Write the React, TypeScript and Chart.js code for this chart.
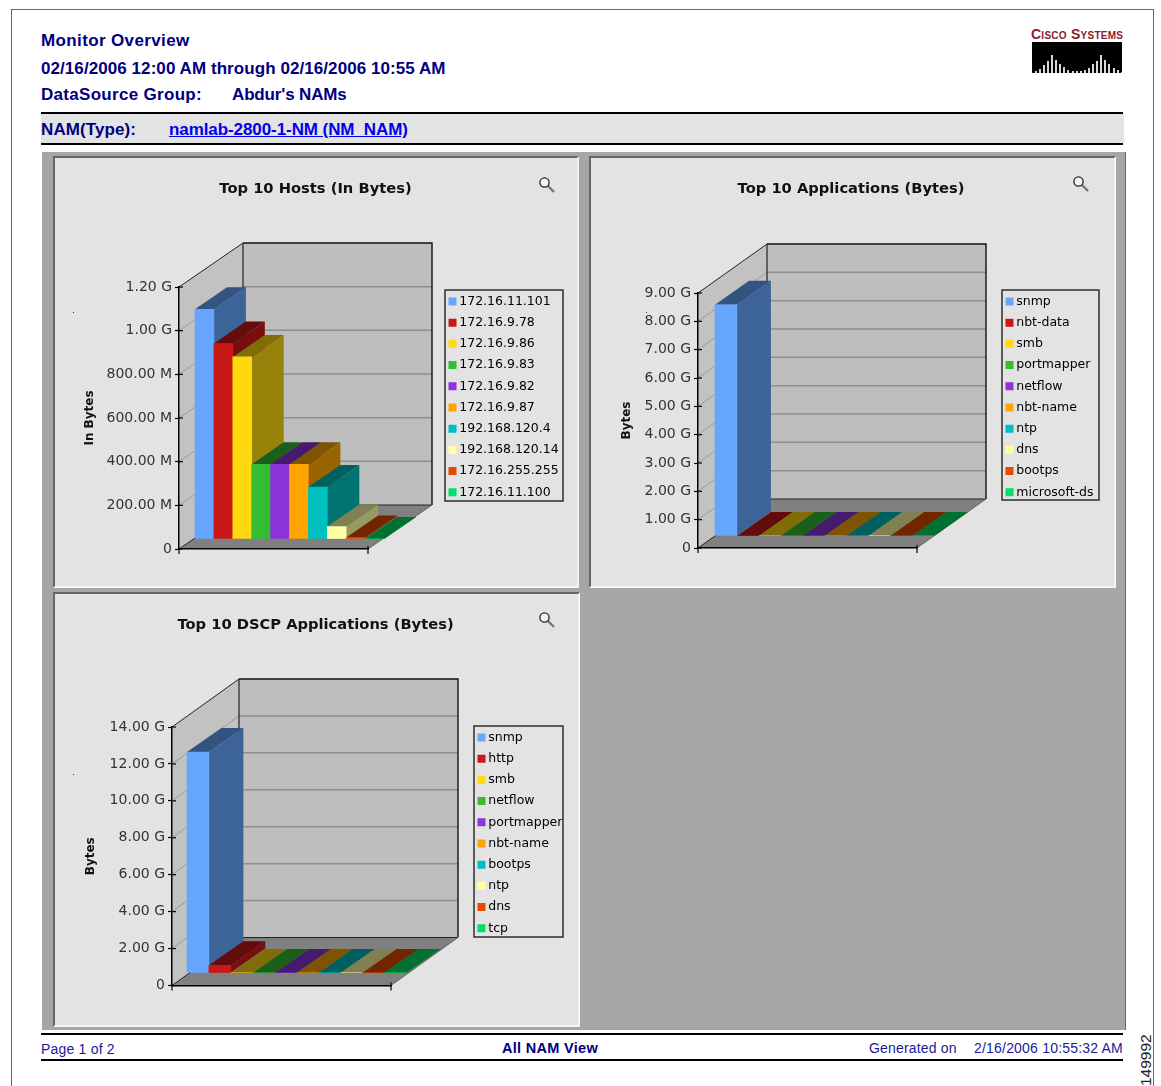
import React, { useEffect, useRef } from "react";
import { Chart, registerables } from "chart.js";

Chart.register(...registerables);

const FONT = '"DejaVu Sans", sans-serif';
const PAGE_FONT = '"Liberation Sans", Arial, sans-serif';

// ---------- data ----------
const hostLabels = ["172.16.11.101", "172.16.9.78", "172.16.9.86", "172.16.9.83", "172.16.9.82", "172.16.9.87", "192.168.120.4", "192.168.120.14", "172.16.255.255", "172.16.11.100"];
const hostValues = [1052e6, 895e6, 834e6, 342e6, 342e6, 342e6, 238e6, 57e6, 6.4e6, 0.4e6];
const appLabels = ["snmp", "nbt-data", "smb", "portmapper", "netflow", "nbt-name", "ntp", "dns", "bootps", "microsoft-ds"];
const appValues = [8.16e9, 1.2e6, 1.1e6, 1e6, 0.9e6, 0.8e6, 0.7e6, 0.6e6, 0.5e6, 0.4e6];
const dscpLabels = ["snmp", "http", "smb", "netflow", "portmapper", "nbt-name", "bootps", "ntp", "dns", "tcp"];
const dscpValues = [11.97e9, 0.415e9, 1.2e6, 1.1e6, 1e6, 0.9e6, 0.8e6, 0.7e6, 0.6e6, 0.5e6];
const barColors = ["#66A6FF", "#C81818", "#FFD90F", "#33BD33", "#8C33D9", "#FFA500", "#00BFBF", "#FFFFA3", "#E64A00", "#00E066"];
const logoBars = [2, 4, 8, 12, 18, 13, 9, 6, 3, 2, 2, 2, 3, 5, 9, 12, 18, 13, 9, 5, 3, 1];

// ---------- helpers ----------
function shade(hex: string, f: number) {
  const n = parseInt(hex.slice(1), 16);
  const c = (s: number) => Math.round(((n >> s) & 255) * f);
  return `rgb(${c(16)},${c(8)},${c(0)})`;
}
function poly(ctx: CanvasRenderingContext2D, pts: number[][], fill?: string, stroke?: string, lw = 1) {
  ctx.beginPath();
  pts.forEach((p, i) => (i ? ctx.lineTo(p[0], p[1]) : ctx.moveTo(p[0], p[1])));
  if (fill) { ctx.closePath(); ctx.fillStyle = fill; ctx.fill(); }
  if (stroke) { ctx.strokeStyle = stroke; ctx.lineWidth = lw; ctx.stroke(); }
}
function tickText(v: number) {
  if (v === 0) return "0";
  return v >= 1e9 ? (v / 1e9).toFixed(2) + " G" : (v / 1e6).toFixed(2) + " M";
}

const plugin3d = {
  id: "box3d",
  afterLayout(chart: any, _a: any, o: any) {
    const l = chart.legend;
    const pad = l.options.labels.padding;
    l.left = o.legendX - pad;
    l.top = o.legendY - pad;
    l.right = l.left + 200;
    l.bottom = l.top + 260;
    l.width = 200;
    l.height = 260;
    chart.titleBlock.left = 0;
    chart.titleBlock.right = chart.width;
    chart.titleBlock.width = chart.width;
  },
  beforeDraw(chart: any, _a: any, o: any) {
    const ctx = chart.ctx;
    const { left: L, right: R, bottom: B, top: T } = chart.chartArea;
    const { wx, wy } = o;
    ctx.save();
    // left wall, back wall, floor
    poly(ctx, [[L, B], [L, T], [L + wx, T + wy], [L + wx, B + wy]], "#C2C2C2");
    poly(ctx, [[L + wx, T + wy], [R + wx, T + wy], [R + wx, B + wy], [L + wx, B + wy]], "#BEBEBE");
    const y = chart.scales.y;
    const last = y.ticks.length - 1;
    y.ticks.forEach((_t: any, i: number) => {
      const p = y.getPixelForTick(i);
      if (i > 0) {
        poly(ctx, [[L, p], [L + wx, p + wy]], undefined, i === last ? "#222" : "#999", 1);
        if (i !== last) poly(ctx, [[L + wx, p + wy], [R + wx, p + wy]], undefined, "#8E8E8E", 1.5);
      }
      poly(ctx, [[L, p], [L + 4, p]], undefined, "#000", 1.2);
    });
    poly(ctx, [[L, B], [R, B], [R + wx, B + wy], [L + wx, B + wy]], "#808080");
    poly(ctx, [[L + wx, T + wy], [R + wx, T + wy], [R + wx, B + wy]], undefined, "#111", 1.4);
    poly(ctx, [[L + wx, T + wy], [L + wx, B + wy], [R + wx, B + wy]], undefined, "#222", 1.2);
    poly(ctx, [[L, B], [L + wx, B + wy]], undefined, "#222", 1);
    poly(ctx, [[R, B], [R + wx, B + wy]], undefined, "#666", 1);
    poly(ctx, [[L, B], [L, B + 5]], undefined, "#000", 1.2);
    poly(ctx, [[R, B - 3], [R, B + 5]], undefined, "#000", 1.2);
    // legend frame
    const [x0, y0, x1, y1] = o.legendBox;
    ctx.strokeStyle = "#222";
    ctx.lineWidth = 1.4;
    ctx.strokeRect(x0, y0, x1 - x0, y1 - y0);
    ctx.restore();
  },
  beforeDatasetsDraw(chart: any, _a: any, o: any) {
    const ctx = chart.ctx;
    const { ox, oy, dx, dy } = o;
    ctx.save();
    ctx.translate(ox, oy);
    const els = chart.getDatasetMeta(0).data;
    els.forEach((el: any, i: number) => {
      const c = barColors[i];
      const a = el.x - el.width / 2;
      const b = el.x + el.width / 2;
      poly(ctx, [[b, el.y], [b + dx, el.y + dy], [b + dx, el.base + dy], [b, el.base]], shade(c, 0.6));
      poly(ctx, [[a, el.y], [a + dx, el.y + dy], [b + dx, el.y + dy], [b, el.y]], shade(c, 0.5));
    });
  },
  afterDatasetsDraw(chart: any) {
    chart.ctx.restore();
  },
};

type Spec = {
  title: string; axis: string; labels: string[]; values: number[]; max: number; step: number;
  cx: number; cy: number; cw: number; ch: number; titleY: number; axisX: number;
  L: number; R: number; B: number; T: number; wx: number; wy: number;
  ox: number; oy: number; dx: number; dy: number;
  legendBox: number[];
};

const Bar3D: React.FC<{ s: Spec }> = ({ s }) => {
  const ref = useRef<HTMLCanvasElement>(null);
  useEffect(() => {
    const titleLH = 18;
    const titlePadTop = s.titleY - s.cy - titleLH / 2;
    const chart = new Chart(ref.current as HTMLCanvasElement, {
      type: "bar",
      data: {
        labels: s.labels,
        datasets: [{
          label: s.axis, data: s.values, backgroundColor: barColors, borderWidth: 0, barPercentage: 1, categoryPercentage: 1, clip: false,
          inflateAmount: (c: any) => (c.raw / s.max > 0.004 ? 0.33 : 0),
        } as any],
      },
      plugins: [plugin3d as any],
      options: {
        responsive: false,
        animation: false,
        events: [],
        layout: {
          autoPadding: false,
          padding: { left: 0, top: 0, right: s.cx + s.cw - s.R, bottom: s.cy + s.ch - s.B },
        },
        scales: {
          x: {
            grid: { display: false },
            ticks: { display: false },
            border: { display: true, color: "#000", width: 1.5 },
            afterFit: (sc: any) => { sc.height = 0; },
          },
          y: {
            min: 0, max: s.max,
            grid: { drawOnChartArea: false, drawTicks: true, tickLength: 4, tickColor: "#000", tickWidth: 1.2 },
            border: { display: true, color: "#000", width: 1.5 },
            ticks: {
              stepSize: s.step, padding: 3, color: "#333",
              font: { family: FONT, size: 14 },
              callback: (v: any) => tickText(Number(v)),
            },
            title: {
              display: true, text: s.axis, color: "#111",
              font: { family: FONT, size: 12, weight: "bold", lineHeight: 1.2 },
              padding: { top: s.axisX - s.cx - 7.2, bottom: 0 },
            },
            afterFit: (sc: any) => { sc.width = s.L - s.cx; },
          },
        } as any,
        plugins: {
          title: {
            display: true, text: s.title, color: "#111", align: "center",
            font: { family: FONT, size: 14.7, weight: "bold", lineHeight: titleLH / 14.7 },
            padding: { top: titlePadTop, bottom: s.T - s.cy - titleLH - titlePadTop },
          },
          tooltip: { enabled: false },
          legend: {
            display: true,
            position: "chartArea",
            align: "start",
            labels: {
              color: "#222",
              font: { family: FONT, size: 12.5, lineHeight: 1.2 },
              boxWidth: 1, boxHeight: 1, padding: 8.7,
              generateLabels: (c: any) =>
                c.data.labels.map((t: string, i: number) => ({
                  text: t, fillStyle: barColors[i], strokeStyle: barColors[i], lineWidth: 7, hidden: false, index: i, datasetIndex: 0,
                })),
            },
          },
          box3d: {
            wx: s.wx, wy: s.wy, ox: s.ox, oy: s.oy, dx: s.dx, dy: s.dy,
            legendBox: s.legendBox.map((v, i) => v - (i % 2 ? s.cy : s.cx)),
            legendX: s.legendBox[0] + 7 - s.cx,
            legendY: s.legendBox[1] + 5.2 - s.cy,
          },
        } as any,
      },
    });
    return () => chart.destroy();
  }, [s]);
  return <canvas ref={ref} width={s.cw} height={s.ch} style={{ position: "absolute", left: s.cx, top: s.cy, display: "block" }} />;
};

const specs: Spec[] = [
  { title: "Top 10 Hosts (In Bytes)", axis: "In Bytes", labels: hostLabels, values: hostValues, max: 1.2e9, step: 2e8,
    cx: 55, cy: 158, cw: 521, ch: 428, titleY: 189, axisX: 90, L: 179, R: 368, B: 549, T: 287, wx: 64, wy: -44, ox: 16, oy: -10, dx: 32, dy: -22, legendBox: [445, 290, 563, 501] },
  { title: "Top 10 Applications (Bytes)", axis: "Bytes", labels: appLabels, values: appValues, max: 9e9, step: 1e9,
    cx: 591, cy: 158, cw: 520, ch: 428, titleY: 189, axisX: 627, L: 698, R: 917, B: 548, T: 293, wx: 69, wy: -49, ox: 17, oy: -12, dx: 34, dy: -24, legendBox: [1002, 290, 1099, 500] },
  { title: "Top 10 DSCP Applications (Bytes)", axis: "Bytes", labels: dscpLabels, values: dscpValues, max: 14e9, step: 2e9,
    cx: 55, cy: 594, cw: 521, ch: 431, titleY: 625, axisX: 91, L: 172, R: 391, B: 985.5, T: 727, wx: 67, wy: -48, ox: 15, oy: -12.5, dx: 34.5, dy: -24, legendBox: [474, 726, 563, 937] },
];

const navy = "#000080";
const T: React.FC<{ x?: number; r?: number; y: number; size?: number; bold?: boolean; color?: string; sp?: number; u?: boolean; children: React.ReactNode }> = ({ x, r, y, size = 17, bold = true, color = navy, sp = 0, u, children }) => (
  <div style={{ position: "absolute", left: x, right: r, top: y, fontFamily: PAGE_FONT, fontSize: size, fontWeight: bold ? 700 : 400, color, letterSpacing: sp, lineHeight: "20px", whiteSpace: "pre", textDecoration: u ? "underline" : "none" }}>{children}</div>
);
const Box: React.FC<{ x: number; y: number; w: number; h: number; c: string }> = ({ x, y, w, h, c }) => (
  <div style={{ position: "absolute", left: x, top: y, width: w, height: h, background: c }} />
);
const Panel: React.FC<{ x: number; y: number; w: number; h: number }> = ({ x, y, w, h }) => (
  <div style={{ position: "absolute", left: x, top: y, width: w, height: h, boxSizing: "border-box", background: "#E3E3E3", borderStyle: "solid", borderWidth: 2, borderColor: "#666 #F4F4F4 #F4F4F4 #666" }} />
);
const Lens: React.FC<{ x: number; y: number }> = ({ x, y }) => (
  <svg width="20" height="20" style={{ position: "absolute", left: x, top: y }}>
    <line x1="10" y1="10" x2="16" y2="16" stroke="#777" strokeWidth="2.4" />
    <circle cx="6.5" cy="6.5" r="4.6" fill="#F4F4F4" stroke="#222" strokeWidth="1.3" />
  </svg>
);

export default function App() {
  return (
    <div style={{ position: "absolute", left: 0, top: 0, width: 1161, height: 1086, overflow: "hidden", background: "#fff" }}>
      <Box x={11} y={9} w={1143} h={1} c="#666" />
      <Box x={11} y={9} w={1} h={1077} c="#666" />
      <Box x={1153} y={9} w={1} h={1077} c="#666" />

      <T x={41} y={31} sp={0.37}>Monitor Overview</T>
      <T x={41} y={59} sp={0.07}>02/16/2006 12:00 AM through 02/16/2006 10:55 AM</T>
      <T x={41} y={85} sp={0.3}>DataSource Group:</T>
      <T x={232} y={85} sp={-0.15}>Abdur's NAMs</T>
      <Box x={41} y={114} w={1083} h={29} c="#E3E3E3" />
      <Box x={41} y={112} w={1082} h={2} c="#000" />
      <Box x={41} y={143} w={1082} h={2} c="#000" />
      <T x={41} y={120} sp={0.1}>NAM(Type):</T>
      <T x={169} y={120} color="#0000EE" u sp={-0.08}>namlab-2800-1-NM (NM_NAM)</T>

      <div style={{ position: "absolute", left: 1031, top: 26, fontFamily: PAGE_FONT, fontWeight: 700, fontSize: 14, fontVariant: "small-caps", color: "#8B1C2E", letterSpacing: 0.25, lineHeight: "16px", whiteSpace: "pre" }}>Cisco Systems</div>
      <Box x={1032} y={42} w={90} h={31} c="#000" />
      {logoBars.map((h, i) => <Box key={i} x={1034.6 + i * 4.1} y={73 - h} w={2} h={h} c="#D8D8D8" />)}

      <Box x={42} y={152} w={1083} h={878} c="#A6A6A6" />
      <Box x={1125} y={152} w={1} h={878} c="#666" />
      <Panel x={53} y={156} w={526} h={432} />
      <Panel x={589} y={156} w={527} h={432} />
      <Panel x={53} y={592} w={527} h={435} />

      {specs.map((s, i) => <Bar3D key={i} s={s} />)}

      <Lens x={538} y={176} />
      <Lens x={1072} y={175} />
      <Lens x={538} y={611} />
      <Box x={73} y={312} w={1} h={1} c="#333" />
      <Box x={646} y={312} w={1} h={1} c="#333" />
      <Box x={73} y={774} w={1} h={1} c="#333" />

      <Box x={41} y={1033} w={1082} h={2} c="#000" />
      <Box x={41} y={1059} w={1082} h={2} c="#000" />
      <T x={41} y={1039} size={14} bold={false} color="#1A1A9A" sp={0.2}>Page 1 of 2</T>
      <T x={502} y={1038} size={14.5} sp={0.3}>All NAM View</T>
      <T x={869} y={1038} size={14} bold={false} color="#1A1A9A" sp={0.17}>Generated on</T>
      <T r={38} y={1038} size={14} bold={false} color="#1A1A9A" sp={0.2}>2/16/2006 10:55:32 AM</T>
      <div style={{ position: "absolute", left: 1137, top: 1032, width: 18, height: 54, writingMode: "vertical-rl", transform: "rotate(180deg)", fontFamily: PAGE_FONT, fontSize: 15.5, color: "#222", lineHeight: "18px", whiteSpace: "pre" }}>149992</div>
    </div>
  );
}
